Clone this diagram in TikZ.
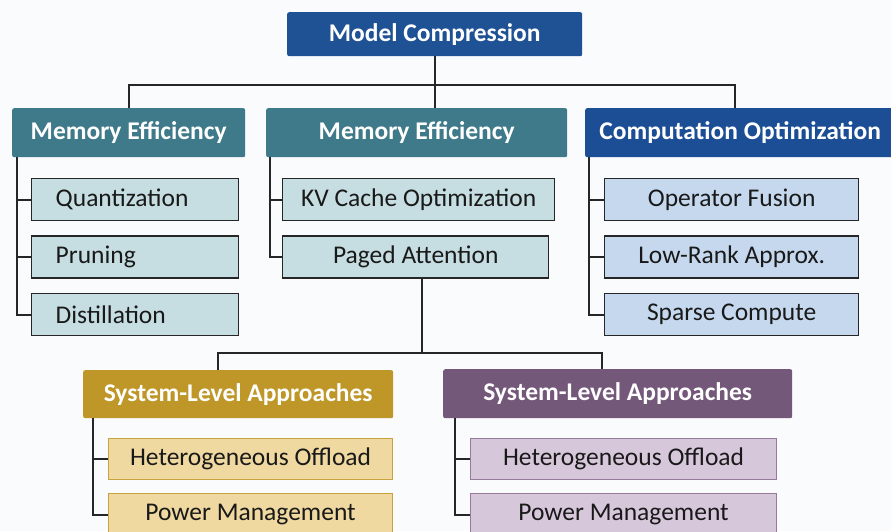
\documentclass[tikz,border=0pt]{standalone}
\usepackage{fontspec}
\setmainfont{Carlito}
\usetikzlibrary{positioning}

\definecolor{pagebg}{RGB}{250,251,252}
\definecolor{rootblue}{RGB}{31,82,148}
\definecolor{memteal}{RGB}{62,122,138}
\definecolor{compblue}{RGB}{28,78,150}
\definecolor{tealfill}{RGB}{198,222,226}
\definecolor{bluefill}{RGB}{197,216,238}
\definecolor{sysgold}{RGB}{190,151,40}
\definecolor{goldfill}{RGB}{239,217,160}
\definecolor{goldline}{RGB}{200,162,62}
\definecolor{syspurple}{RGB}{115,88,122}
\definecolor{purplefill}{RGB}{215,199,219}
\definecolor{purpleline}{RGB}{150,122,156}
\definecolor{linkgray}{RGB}{38,38,38}

\begin{document}
\begin{tikzpicture}[x=1pt, y=-1pt]
        \tikzstyle{head} = [rectangle, rounded corners=2pt, anchor=north west, minimum height=49pt, inner sep=0pt, text=white, font=\fontsize{25.5}{30}\selectfont\bfseries]
        \tikzstyle{leaf} = [draw=linkgray, line width=1.4pt, rectangle, minimum height=42pt, inner sep=0pt, text=black!90, font=\fontsize{25.5}{30}\selectfont]
        \tikzstyle{link} = [draw=linkgray, line width=2pt]

        % Fondo y caja fija
        \fill [pagebg] (0,0) rectangle (891,531);
        \useasboundingbox (0,0) rectangle (891,531);

        % Raiz
        \node at (287,12) [head, fill=rootblue, minimum width=295pt, minimum height=44pt] (root) {Model Compression};

        % Categorias
        \node at (12,108) [head, fill=memteal, minimum width=233pt] (memA) {Memory Efficiency};
        \node at (266,108) [head, fill=memteal, minimum width=301pt] (memB) {Memory Efficiency};
        \node at (585,108) [head, fill=compblue, minimum width=310pt] (comp) {Computation Optimization};

        % Hojas de la primera columna
        \node at (31,178) [leaf, anchor=north west, fill=tealfill, text width=159pt, inner xsep=24pt, align=left] (quant) {Quantization};
        \node [leaf, fill=tealfill, text width=159pt, inner xsep=24pt, align=left, below=14pt of quant] (prun) {Pruning};
        \node [leaf, fill=tealfill, text width=159pt, inner xsep=24pt, align=left, below=14pt of prun] (dist) {Distillation};

        % Hojas de la segunda columna
        \node at (282,178) [leaf, anchor=north west, fill=tealfill, minimum width=272pt] (kvcache) {KV Cache Optimization};
        \node [leaf, fill=tealfill, minimum width=266pt, below=14pt of kvcache.south west, anchor=north west] (paged) {Paged Attention};

        % Hojas de la tercera columna
        \node at (604,178) [leaf, anchor=north west, fill=bluefill, minimum width=254pt] (fusion) {Operator Fusion};
        \node [leaf, fill=bluefill, minimum width=254pt, below=14pt of fusion] (lowrank) {Low-Rank Approx.};
        \node [leaf, fill=bluefill, minimum width=254pt, below=14pt of lowrank] (sparse) {Sparse Compute};

        % Nivel de sistema
        \node at (83,370) [head, fill=sysgold, minimum width=310pt, minimum height=48pt] (sysA) {System-Level Approaches};
        \node at (443,369) [head, fill=syspurple, minimum width=349pt] (sysB) {System-Level Approaches};

        \node at (108,438) [leaf, anchor=north west, draw=goldline, line width=1.1pt, fill=goldfill, minimum width=284pt, minimum height=41pt] (offloadA) {Heterogeneous Offload};
        \node [leaf, draw=goldline, line width=1.1pt, fill=goldfill, minimum width=284pt, below=13pt of offloadA] (powerA) {Power Management};
        \node at (470,438) [leaf, anchor=north west, draw=purpleline, line width=1.1pt, fill=purplefill, minimum width=306pt, minimum height=41pt] (offloadB) {Heterogeneous Offload};
        \node [leaf, draw=purpleline, line width=1.1pt, fill=purplefill, minimum width=306pt, below=13pt of offloadB] (powerB) {Power Management};

        % Conexiones
        \draw [link] (root.south) -- ++(0,29) coordinate (hub);
        \draw [link] (hub) -| (memA.north);
        \draw [link] (hub) -| ([xshift=-5pt]comp.north);
        \draw [link] (root.south) -- (root.south |- memB.north);

        \draw [link] ([xshift=5pt]memA.south west) |- (quant.west);
        \draw [link] ([xshift=5pt]memA.south west) |- (prun.west);
        \draw [link] ([xshift=5pt]memA.south west) |- (dist.west);

        \draw [link] ([xshift=4pt]memB.south west) |- (kvcache.west);
        \draw [link] ([xshift=4pt]memB.south west) |- (paged.west);

        \draw [link] ([xshift=4pt]comp.south west) |- (fusion.west);
        \draw [link] ([xshift=4pt]comp.south west) |- (lowrank.west);
        \draw [link] ([xshift=4pt]comp.south west) |- (sparse.west);

        \draw [link] ([xshift=6pt]paged.south) -- ++(0,74) coordinate (split);
        \draw [link] (split) -| ([xshift=-20pt]sysA.north);
        \draw [link] (split) -| ([xshift=-16pt]sysB.north);

        \draw [link] ([xshift=10pt]sysA.south west) |- (offloadA.west);
        \draw [link] ([xshift=10pt]sysA.south west) |- (powerA.west);
        \draw [link] ([xshift=12pt]sysB.south west) |- (offloadB.west);
        \draw [link] ([xshift=12pt]sysB.south west) |- (powerB.west);

        \end{tikzpicture}
\end{document}
